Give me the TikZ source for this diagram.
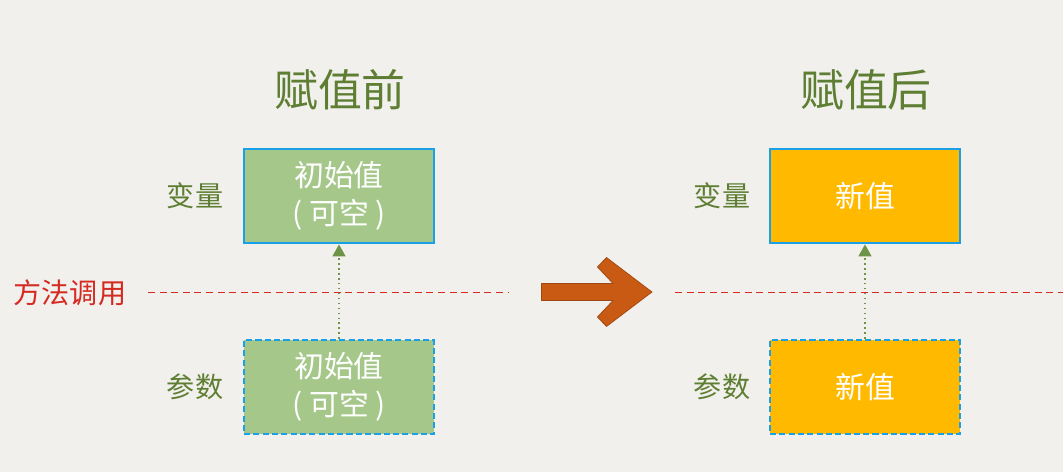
\documentclass[tikz,border=0pt]{standalone}
\usepackage{fontspec}
\setmainfont{Noto Sans CJK SC}
\usepackage{xcolor}
\usepackage{tikz}
\usetikzlibrary{arrows.meta, positioning}

\definecolor{bgpaper}{HTML}{F2F0EC}
\definecolor{titlegreen}{HTML}{5E7F33}
\definecolor{boxgreen}{HTML}{A5C88A}
\definecolor{boxorange}{HTML}{FFBA00}
\definecolor{edgeblue}{HTML}{1AA0E6}
\definecolor{callred}{HTML}{D42A22}
\definecolor{arrowbrown}{HTML}{C85A14}
\definecolor{linkgreen}{HTML}{6E9448}

\begin{document}
\begin{tikzpicture}[
    title/.style={font=\fontsize{25}{28}\selectfont, text=titlegreen},
    side/.style={font=\fontsize{16}{19}\selectfont, text=titlegreen},
    value/.style={draw=edgeblue, line width=1.6pt, minimum width=3.8cm, minimum height=1.88cm,
                  align=center, text=white, font=\fontsize{17}{22}\selectfont},
    param/.style={value, dash pattern=on 3.5pt off 1.8pt},
    call/.style={draw=callred, thin, dash pattern=on 4pt off 2.6pt},
    link/.style={draw=linkgreen, thick, dotted, -{Triangle[length=2.4mm, width=2.6mm]}}
]
    % Background
    \fill[bgpaper] (0,0) rectangle (21.26,9.44);
    \useasboundingbox (0,0) rectangle (21.26,9.44);

    % Titles
    \node[title] (before) at (6.80,7.64)  {赋值前};
    \node[title] (after)  at (17.32,7.64) {赋值后};

    % Before: boxes
    \node[value, fill=boxgreen] (var1) at (6.78,5.52) {初始值\\( 可空 )};
    \node[param, fill=boxgreen] (arg1) at (6.78,1.70) {初始值\\( 可空 )};
    \node[side] (varlab1) at (3.90,5.52) {变量};
    \node[side] (arglab1) at (3.90,1.70) {参数};

    % After: boxes
    \node[value, fill=boxorange] (var2) at (17.30,5.52) {新值};
    \node[param, fill=boxorange] (arg2) at (17.30,1.70) {新值};
    \node[side] (varlab2) at (14.44,5.52) {变量};
    \node[side] (arglab2) at (14.44,1.70) {参数};

    % Method call line
    \node[font=\fontsize{16}{19}\selectfont, text=callred] (callname) at (1.40,3.58) {方法调用};
    \coordinate (callA) at (2.96,3.60);
    \coordinate (callB) at (10.16,3.60);
    \coordinate (callC) at (13.50,3.60);
    \coordinate (callD) at (21.26,3.60);
    \draw[call] (callA) -- (callB);
    \draw[call] (callC) -- (callD);

    % Parameter -> variable
    \draw[link] (arg1.north) -- (var1.south);
    \draw[link] (arg2.north) -- (var2.south);

    % Big arrow
    \filldraw[fill=arrowbrown, draw=arrowbrown!80!black, line width=0.4pt]
        (10.83,3.77) -- (12.26,3.77) -- (11.95,4.10) -- (12.13,4.29) -- (13.04,3.60)
        -- (12.13,2.91) -- (11.95,3.10) -- (12.26,3.43) -- (10.83,3.43) -- cycle;
\end{tikzpicture}
\end{document}
